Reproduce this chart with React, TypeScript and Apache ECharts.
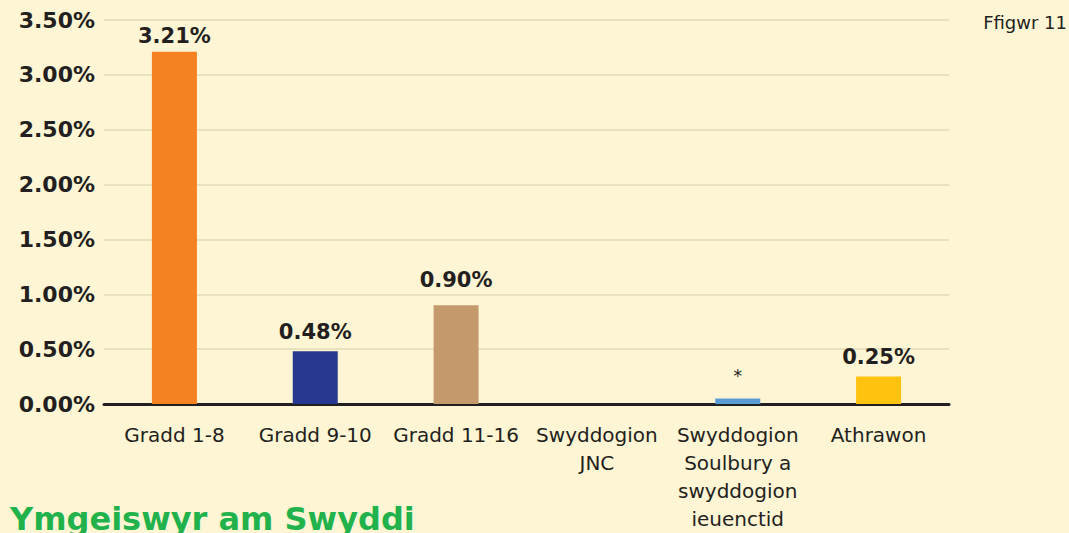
import React, { useEffect, useRef } from "react";
import * as echarts from "echarts";

const categories = [
  "Gradd 1-8",
  "Gradd 9-10",
  "Gradd 11-16",
  "Swyddogion\nJNC",
  "Swyddogion\nSoulbury a\nswyddogion\nieuenctid",
  "Athrawon",
];
const values = [3.21, 0.48, 0.9, null, 0.05, 0.25];
const valueLabels = ["3.21%", "0.48%", "0.90%", "", "*", "0.25%"];
const barColors = ["#F58220", "#283890", "#C4996C", "#5B9BD5", "#5B9BD5", "#FFC20E"];
const FONT = "'DejaVu Sans', sans-serif";

export default function App() {
  const ref = useRef<HTMLDivElement>(null);
  useEffect(() => {
    if (!ref.current) return;
    const labelGap = [5, 9, 15, 5, 14, 9];
    const chart = echarts.init(ref.current, null, { renderer: "svg" });
    chart.setOption({
      animation: false,
      backgroundColor: "#FEF5D4",
      textStyle: { fontFamily: FONT },
      grid: { left: 104, right: 120, top: 20, bottom: 126, containLabel: false },
      xAxis: {
        type: "category",
        data: categories,
        axisLine: { lineStyle: { color: "#231F20", width: 3 } },
        axisTick: { show: false },
        axisLabel: {
          color: "#231F20",
          fontSize: 20,
          fontFamily: FONT,
          lineHeight: 28,
          margin: 17,
          interval: 0,
          align: "center",
        },
      },
      yAxis: {
        type: "value",
        min: 0,
        max: 3.5,
        interval: 0.5,
        axisLine: { show: false },
        axisTick: { show: false },
        splitLine: { lineStyle: { color: "#E8E2BE", width: 2 } },
        axisLabel: {
          color: "#231F20",
          fontSize: 22,
          fontWeight: "bold",
          fontFamily: FONT,
          margin: 9,
          formatter: (v: number) => v.toFixed(2) + "%",
        },
      },
      series: [
        {
          type: "bar",
          barWidth: 45,
          data: values.map((v, i) => ({
            value: v,
            itemStyle: { color: barColors[i] },
            label: {
              show: true,
              position: "top",
              distance: labelGap[i],
              formatter: valueLabels[i],
              color: "#231F20",
              fontFamily: FONT,
              fontSize: valueLabels[i] === "*" ? 17 : 21,
              fontWeight: valueLabels[i] === "*" ? "normal" : "bold",
            },
          })),
        },
      ],
      graphic: [
        {
          type: "text",
          right: 2,
          top: 13,
          style: { text: "Ffigwr 11", fontSize: 18, fill: "#231F20", fontFamily: FONT },
        },
        {
          type: "text",
          left: 10,
          top: 503,
          style: {
            text: "Ymgeiswyr am Swyddi",
            fontSize: 32,
            fontWeight: "bold",
            fill: "#22B24C",
            fontFamily: FONT,
          },
        },
      ],
    });
    return () => chart.dispose();
  }, []);
  return (
    <div
      ref={ref}
      style={{ position: "fixed", left: 0, top: 0, width: 1069, height: 533 }}
    />
  );
}
